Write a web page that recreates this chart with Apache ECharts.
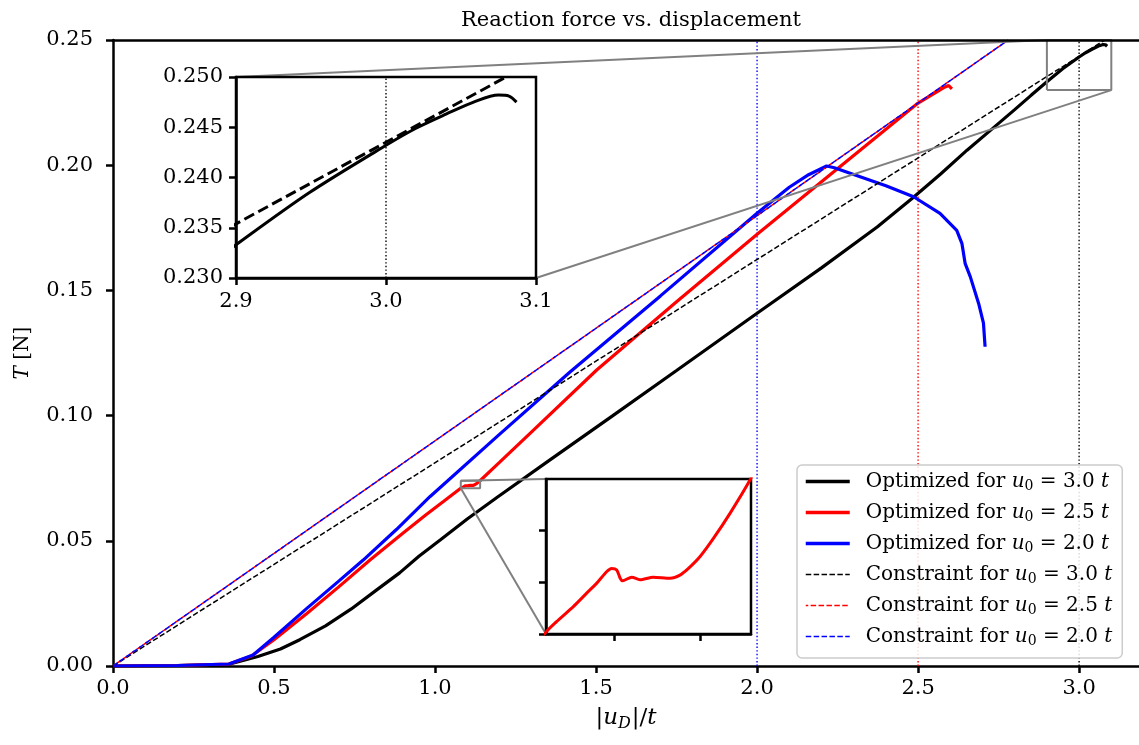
<!DOCTYPE html>
<html>
<head>
<meta charset="utf-8">
<script src="https://cdn.jsdelivr.net/npm/echarts@6/dist/echarts.min.js"></script>
<style>
  html, body { margin: 0; padding: 0; background: #fff; }
  #chart { width: 1139px; height: 745px; }
</style>
</head>
<body>
<div id="chart"></div>
<script>
// curves: [|u_D|/t, T]
const black3 = [[0,0],[0.2,0.0002],[0.36,0.0007],[0.45,0.0038],[0.52,0.0068],[0.58,0.0105],[0.66,0.016],
  [0.74,0.0228],[0.82,0.0305],[0.89,0.0372],[0.95,0.0438],[1.016,0.0503],[1.1,0.0587],[1.191,0.0672],
  [1.357,0.0823],[1.55,0.0998],[1.75,0.118],[2.0,0.1409],[2.2,0.159],[2.373,0.1753],[2.484,0.187],
  [2.57,0.1965],[2.652,0.206],[2.73,0.2145],[2.8,0.2222],[2.85,0.2278],[2.9,0.2333],[2.949,0.2385],
  [3.0,0.2432],[3.02,0.2449],[3.04,0.2463],[3.06,0.2476],[3.075,0.2482],[3.082,0.2481],[3.087,0.2475]];
const red25 = [[0,0],[0.2,0.0002],[0.36,0.0008],[0.43,0.004],[0.5,0.0105],[0.6,0.0208],[0.7,0.0315],
  [0.798,0.0423],[0.9,0.053],[0.97,0.0602],[1.026,0.0657],[1.0797,0.07101],[1.0831,0.07124],[1.088,0.07153],
  [1.0919,0.07179],[1.0948,0.07198],[1.0978,0.07221],[1.0992,0.07227],[1.1007,0.07224],[1.1017,0.07208],
  [1.1024,0.07203],[1.1051,0.0721],[1.1075,0.07205],[1.1114,0.0721],[1.1163,0.07208],[1.1192,0.07214],
  [1.1217,0.07227],[1.1251,0.0725],[1.129,0.07285],[1.1339,0.07334],[1.1397,0.07398],[1.2,0.0813],
  [1.3,0.0935],[1.502,0.1182],[1.75,0.1455],[2.004,0.1728],[2.32,0.206],[2.5,0.2248],[2.58,0.231],
  [2.595,0.2318],[2.605,0.2305]];
const blue20 = [[0,0],[0.2,0.0002],[0.36,0.0008],[0.435,0.0044],[0.5,0.0115],[0.6,0.0228],[0.7,0.0338],
  [0.777,0.0423],[0.88,0.0545],[0.984,0.0676],[1.2,0.0925],[1.42,0.1175],[1.7,0.1478],[2.0,0.1808],
  [2.1,0.1912],[2.16,0.1962],[2.216,0.1997],[2.24,0.199],[2.32,0.1954],[2.4,0.1918],[2.486,0.1874],
  [2.568,0.1808],[2.62,0.174],[2.636,0.1688],[2.646,0.1608],[2.662,0.1555],[2.688,0.1448],[2.703,0.1369],
  [2.708,0.1275]];
const cons3 = [[0,0],[3.08,0.25]];
const cons25 = [[0,0],[2.78,0.25]];
const cons20 = [[0,0],[2.78,0.25]];
const u0 = [3.0, 2.5, 2.0];

const xTicks = [0,0.5,1.0,1.5,2.0,2.5,3.0];
const yTicks = [0,0.05,0.10,0.15,0.20,0.25];
const zoom1X = [2.9,3.0,3.1];
const zoom1Y = [0.230,0.235,0.240,0.245,0.250];
const zoom2X = [1.08,1.14];
const zoom2Y = [0.071,0.074];
const zoom2XTicks = [1.1,1.125];
const zoom2YTicks = [0.071,0.072,0.073];

const FONT = 'DejaVu Serif';
const GRAY = '#808080';
const optName = v => 'Optimized for u0 = ' + v.toFixed(1) + ' t';
const conName = v => 'Constraint for u0 = ' + v.toFixed(1) + ' t';
const colors = ['#000000', '#ff0000', '#0000ff'];
const optData = [black3, red25, blue20];
const conData = [cons3, cons25, cons20];

const chart = echarts.init(document.getElementById('chart'), null, {renderer: 'canvas'});

function valueAxis(grid, min, max, ticks, fmt, size, margin, extra) {
  return Object.assign({
    type: 'value', gridIndex: grid, min: min, max: max,
    splitLine: {show: false},
    axisLine: {show: true, onZero: false, lineStyle: {color: '#000', width: 2.5}},
    axisTick: {show: true, length: 7, lineStyle: {color: '#000', width: 2.5}, customValues: ticks},
    axisLabel: {customValues: ticks, formatter: fmt, margin: margin,
      fontFamily: FONT, fontSize: size, color: '#000'}
  }, extra || {});
}

const series = [];
// vertical dotted markers at the three u0 values
u0.forEach((v, i) => {
  series.push({type: 'line', xAxisIndex: 0, yAxisIndex: 0, symbol: 'none', silent: true,
    data: [[v, yTicks[0]], [v, yTicks[yTicks.length - 1]]],
    lineStyle: {color: colors[i], width: 1.4, type: [1.4, 2.2]}, z: 1});
});
u0.forEach((v, i) => {
  series.push({name: optName(v), type: 'line', xAxisIndex: 0, yAxisIndex: 0, symbol: 'none',
    data: optData[i], lineStyle: {color: colors[i], width: 3.2}, itemStyle: {color: colors[i]}, z: 2});
});
u0.forEach((v, i) => {
  series.push({name: conName(v), type: 'line', xAxisIndex: 0, yAxisIndex: 0, symbol: 'none',
    data: conData[i], lineStyle: {color: colors[i], width: 1.5, type: [5.5, 2.4], dashOffset: i === 1 ? 3 : 0},
    itemStyle: {color: colors[i]}, z: 3});
});
// zoom boxes in main axes
function boxData(xr, yr) {
  const x0 = xr[0], x1 = xr[xr.length - 1], y0 = yr[0], y1 = yr[yr.length - 1];
  return [[x0, y0], [x1, y0], [x1, y1], [x0, y1], [x0, y0]];
}
series.push({type: 'line', xAxisIndex: 0, yAxisIndex: 0, symbol: 'none', silent: true, z: 4,
  data: boxData(zoom1X, zoom1Y), lineStyle: {color: GRAY, width: 2}});
series.push({type: 'line', xAxisIndex: 0, yAxisIndex: 0, symbol: 'none', silent: true, z: 4,
  data: boxData(zoom2X, zoom2Y), lineStyle: {color: GRAY, width: 2}});
// inset 1: black curves near u0 = 3.0
series.push({type: 'line', xAxisIndex: 2, yAxisIndex: 1, symbol: 'none', silent: true,
  data: [[u0[0], zoom1Y[0]], [u0[0], zoom1Y[zoom1Y.length - 1]]],
  lineStyle: {color: '#000', width: 1.4, type: [1.4, 2.2]}, z: 6});
series.push({type: 'line', xAxisIndex: 2, yAxisIndex: 1, symbol: 'none', silent: true, smooth: 0.3,
  data: black3, lineStyle: {color: '#000', width: 3}, z: 6});
series.push({type: 'line', xAxisIndex: 2, yAxisIndex: 1, symbol: 'none', silent: true,
  data: cons3, lineStyle: {color: '#000', width: 3, type: [11, 4.8]}, z: 6});
// inset 2: red kink
series.push({type: 'line', xAxisIndex: 3, yAxisIndex: 2, symbol: 'none', silent: true, smooth: 0.25,
  data: red25, lineStyle: {color: '#ff0000', width: 3}, z: 6});

const legendData = u0.map(v => ({name: optName(v), lineStyle: {width: 3.5}}))
  .concat(u0.map(v => ({name: conName(v), lineStyle: {width: 1.5}})));

const option = {
  animation: false,
  backgroundColor: '#fff',
  title: {
    text: 'Reaction force vs. displacement', left: 626, top: 5, textAlign: 'center',
    textStyle: {fontFamily: FONT, fontSize: 21, fontWeight: 'normal', color: '#000'}
  },
  grid: [
    {left: 113, top: 40, right: 0, bottom: 79},
    {left: 236, top: 77, width: 300, height: 201, show: true, backgroundColor: '#fff',
      borderColor: '#000', borderWidth: 2.5, z: 5},
    {left: 546, top: 479, width: 205, height: 155, show: true, backgroundColor: '#fff',
      borderColor: '#000', borderWidth: 2.5, z: 5}
  ],
  xAxis: [
    valueAxis(0, 0, 3.186, xTicks, v => v.toFixed(1), 21, 12, {
      name: '|{i|u}{s|D}|/{i|t}', nameLocation: 'middle', nameGap: 38,
      nameTextStyle: {fontFamily: FONT, fontSize: 23, color: '#000',
        rich: {i: {fontFamily: FONT, fontSize: 23, fontStyle: 'italic'},
               s: {fontFamily: FONT, fontSize: 16, fontStyle: 'italic', padding: [12, 1, 0, 0]}}}
    }),
    {type: 'value', gridIndex: 0, position: 'top', min: 0, max: 3.186, z: 5,
      axisLine: {show: true, onZero: false, lineStyle: {color: '#000', width: 2.5}},
      axisTick: {show: false}, axisLabel: {show: false}, splitLine: {show: false}},
    valueAxis(1, zoom1X[0], zoom1X[zoom1X.length - 1], zoom1X, v => v.toFixed(1), 21, 13, {z: 6}),
    valueAxis(2, zoom2X[0], zoom2X[1], zoom2XTicks, () => '', 21, 8, {z: 6})
  ],
  yAxis: [
    valueAxis(0, 0, 0.25, yTicks, v => v.toFixed(2), 21, 20, {
      name: '{i|T} [N]', nameLocation: 'middle', nameGap: 80, nameRotate: 90,
      nameTextStyle: {fontFamily: FONT, fontSize: 20, color: '#000',
        rich: {i: {fontFamily: FONT, fontSize: 20, fontStyle: 'italic'}}}
    }),
    valueAxis(1, zoom1Y[0], zoom1Y[zoom1Y.length - 1], zoom1Y, v => v.toFixed(3), 21, 13, {z: 6}),
    valueAxis(2, zoom2Y[0], zoom2Y[1], zoom2YTicks, () => '', 21, 8, {z: 6})
  ],
  legend: {
    data: legendData, orient: 'vertical', left: 797, top: 465,
    padding: [6, 10, 10, 7], itemGap: 9, itemWidth: 44, itemHeight: 14,
    itemStyle: {opacity: 0, borderWidth: 0},
    backgroundColor: 'rgba(255,255,255,0.85)', borderColor: '#cccccc', borderWidth: 1.5, borderRadius: 5,
    formatter: n => n.replace(/u0 = ([\d.]+) t/, '{i|u}{s|0} = $1 {i|t}'),
    textStyle: {fontFamily: FONT, fontSize: 20, color: '#000', lineHeight: 21, padding: [0, 0, 0, 11],
      rich: {i: {fontFamily: FONT, fontSize: 20, fontStyle: 'italic'},
             s: {fontFamily: FONT, fontSize: 14, padding: [9, 0, 0, 0]}}},
    z: 8
  },
  series: series
};
chart.setOption(option);

// connector lines between zoom boxes and insets
function px(g, p) { return chart.convertToPixel({gridIndex: g}, p); }
const z1x0 = zoom1X[0], z1x1 = zoom1X[zoom1X.length - 1], z1y0 = zoom1Y[0], z1y1 = zoom1Y[zoom1Y.length - 1];
const links = [
  [px(0, [z1x0, z1y1]), px(1, [z1x0, z1y1])],
  [px(0, [z1x1, z1y0]), px(1, [z1x1, z1y0])],
  [px(0, [zoom2X[0], zoom2Y[1]]), px(2, [zoom2X[0], zoom2Y[1]])],
  [px(0, [zoom2X[0], zoom2Y[0]]), px(2, [zoom2X[0], zoom2Y[0]])]
];
chart.setOption({
  graphic: links.map(l => ({
    type: 'line', z: 4, silent: true,
    shape: {x1: l[0][0], y1: l[0][1], x2: l[1][0], y2: l[1][1]},
    style: {stroke: GRAY, lineWidth: 2}
  }))
});
</script>
</body>
</html>
